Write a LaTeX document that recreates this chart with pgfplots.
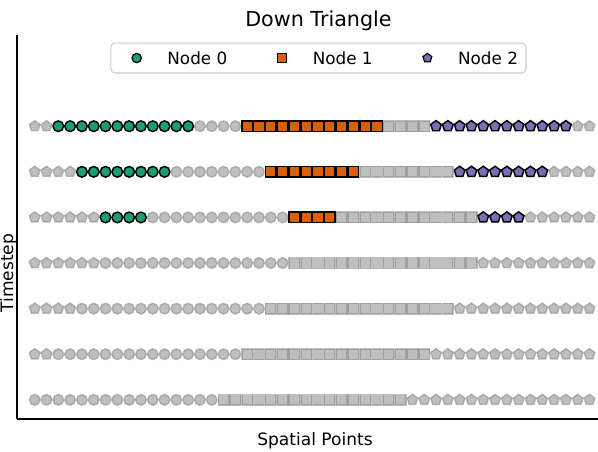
\documentclass[border=0pt]{standalone}
\usepackage{pgfplots}
\pgfplotsset{compat=1.18}
\usepackage{fontspec}
\setmainfont{DejaVu Sans}
\definecolor{cgreen}{RGB}{27,158,119}
\definecolor{corange}{RGB}{217,95,2}
\definecolor{cpurple}{RGB}{117,112,179}
\begin{document}
\begin{tikzpicture}
\begin{axis}[
  at={(0,0)}, anchor=south west,
  scale only axis, width=451.5pt, height=288pt,
  xmin=-1.5, xmax=49.5, ymin=-0.42, ymax=8,
  axis x line*=bottom, axis y line*=left,
  axis line style={line width=2pt,-},
  xtick=\empty, ytick=\empty,
  clip=false,
  grayst/.style={only marks, mark size=4pt, draw=gray, fill=gray, opacity=0.5, line width=1.1pt},
  legend columns=3,
  legend style={at={(rel axis cs:0.5008,0.940)}, anchor=center,
    draw=black!20, line width=0.8pt, rounded corners=3pt,
    inner xsep=6pt, inner ysep=0pt,
    font=\fontsize{12.6}{15}\selectfont,
    /tikz/every even column/.append style={column sep=27.75pt},
    nodes={inner xsep=0pt, inner ysep=6.4pt, text height=9.6pt, text depth=0pt}},
  legend image code/.code={\path (-12.75pt,0pt) (22.5pt,0pt); \draw[#1, mark size=3.5pt, line width=0.9pt] plot coordinates {(0pt,0pt)};},
]
% gray circles (inactive Node 0 points)
\addplot[grayst, mark=*, forget plot] coordinates {
(14,6) (15,6) (16,6) (17,6)
(12,5) (13,5) (14,5) (15,5) (16,5) (17,5) (18,5) (19,5)
(10,4) (11,4) (12,4) (13,4) (14,4) (15,4) (16,4) (17,4) (18,4) (19,4) (20,4) (21,4)
(6,3) (7,3) (8,3) (9,3) (10,3) (11,3) (12,3) (13,3) (14,3) (15,3) (16,3) (17,3) (18,3) (19,3) (20,3) (21,3)
(4,2) (5,2) (6,2) (7,2) (8,2) (9,2) (10,2) (11,2) (12,2) (13,2) (14,2) (15,2) (16,2) (17,2) (18,2) (19,2)
(2,1) (3,1) (4,1) (5,1) (6,1) (7,1) (8,1) (9,1) (10,1) (11,1) (12,1) (13,1) (14,1) (15,1) (16,1) (17,1)
(0,0) (1,0) (2,0) (3,0) (4,0) (5,0) (6,0) (7,0) (8,0) (9,0) (10,0) (11,0) (12,0) (13,0) (14,0) (15,0)
};
% gray squares (inactive Node 1 points)
\addplot[grayst, mark=square*, forget plot] coordinates {
(30,6) (31,6) (32,6) (33,6)
(28,5) (29,5) (30,5) (31,5) (32,5) (33,5) (34,5) (35,5)
(26,4) (27,4) (28,4) (29,4) (30,4) (31,4) (32,4) (33,4) (34,4) (35,4) (36,4) (37,4)
(22,3) (23,3) (24,3) (25,3) (26,3) (27,3) (28,3) (29,3) (30,3) (31,3) (32,3) (33,3) (34,3) (35,3) (36,3) (37,3)
(20,2) (21,2) (22,2) (23,2) (24,2) (25,2) (26,2) (27,2) (28,2) (29,2) (30,2) (31,2) (32,2) (33,2) (34,2) (35,2)
(18,1) (19,1) (20,1) (21,1) (22,1) (23,1) (24,1) (25,1) (26,1) (27,1) (28,1) (29,1) (30,1) (31,1) (32,1) (33,1)
(16,0) (17,0) (18,0) (19,0) (20,0) (21,0) (22,0) (23,0) (24,0) (25,0) (26,0) (27,0) (28,0) (29,0) (30,0) (31,0)
};
% gray pentagons (inactive Node 2 points)
\addplot[grayst, mark=pentagon*, mark size=4.2pt, forget plot] coordinates {
(0,6) (1,6) (46,6) (47,6)
(0,5) (1,5) (2,5) (3,5) (44,5) (45,5) (46,5) (47,5)
(0,4) (1,4) (2,4) (3,4) (4,4) (5,4) (42,4) (43,4) (44,4) (45,4) (46,4) (47,4)
(0,3) (1,3) (2,3) (3,3) (4,3) (5,3) (38,3) (39,3) (40,3) (41,3) (42,3) (43,3) (44,3) (45,3) (46,3) (47,3)
(0,2) (1,2) (2,2) (3,2) (36,2) (37,2) (38,2) (39,2) (40,2) (41,2) (42,2) (43,2) (44,2) (45,2) (46,2) (47,2)
(0,1) (1,1) (34,1) (35,1) (36,1) (37,1) (38,1) (39,1) (40,1) (41,1) (42,1) (43,1) (44,1) (45,1) (46,1) (47,1)
(32,0) (33,0) (34,0) (35,0) (36,0) (37,0) (38,0) (39,0) (40,0) (41,0) (42,0) (43,0) (44,0) (45,0) (46,0) (47,0)
};
% Node 0
\addplot[only marks, mark=*, mark size=4pt, draw=black, fill=cgreen, line width=1.1pt] coordinates {
(2,6) (3,6) (4,6) (5,6) (6,6) (7,6) (8,6) (9,6) (10,6) (11,6) (12,6) (13,6)
(4,5) (5,5) (6,5) (7,5) (8,5) (9,5) (10,5) (11,5)
(6,4) (7,4) (8,4) (9,4)
};
\addlegendentry{Node 0}
% Node 1
\addplot[only marks, mark=square*, mark size=4pt, draw=black, fill=corange, line width=1.1pt] coordinates {
(18,6) (19,6) (20,6) (21,6) (22,6) (23,6) (24,6) (25,6) (26,6) (27,6) (28,6) (29,6)
(20,5) (21,5) (22,5) (23,5) (24,5) (25,5) (26,5) (27,5)
(22,4) (23,4) (24,4) (25,4)
};
\addlegendentry{Node 1}
% Node 2
\addplot[only marks, mark=pentagon*, mark size=4.2pt, draw=black, fill=cpurple, line width=1.1pt] coordinates {
(34,6) (35,6) (36,6) (37,6) (38,6) (39,6) (40,6) (41,6) (42,6) (43,6) (44,6) (45,6)
(36,5) (37,5) (38,5) (39,5) (40,5) (41,5) (42,5) (43,5)
(38,4) (39,4) (40,4) (41,4)
};
\addlegendentry{Node 2}
\node[anchor=base, font=\fontsize{15.5}{18}\selectfont] at (rel axis cs:0.5008,1.0234) {Down Triangle};
\node[anchor=base, font=\fontsize{12.8}{15}\selectfont] at (rel axis cs:0.495,-0.0677) {Spatial Points};
\node[anchor=base, rotate=90, font=\fontsize{12.8}{15}\selectfont] at (rel axis cs:-0.0066,0.38) {Timestep};
\coordinate (bl) at (rel axis cs:0,0);
\end{axis}
\pgfresetboundingbox
\useasboundingbox ([shift={(-12.75pt,-24pt)}]bl) rectangle ([shift={(435.75pt,314.25pt)}]bl);
\end{tikzpicture}
\end{document}
